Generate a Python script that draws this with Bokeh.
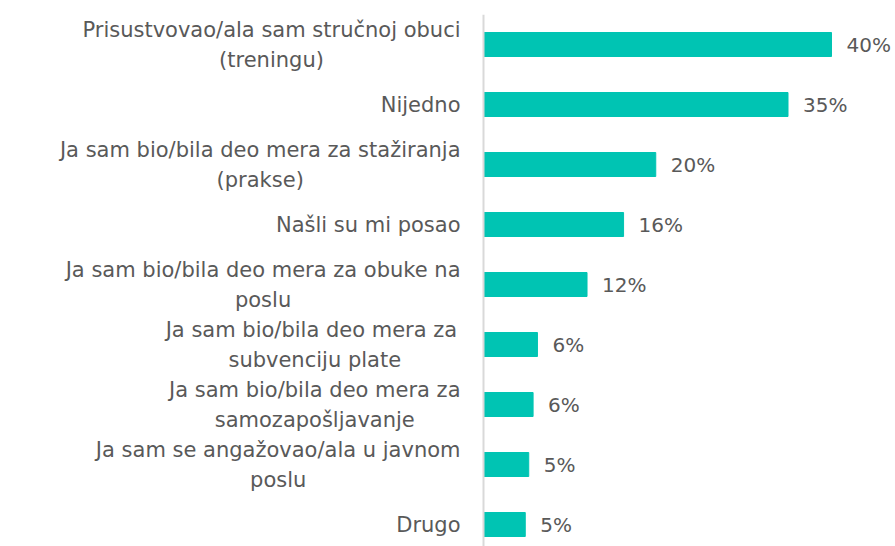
from bokeh.plotting import figure
from bokeh.models import ColumnDataSource, Range1d, Span
from bokeh.core.properties import value
from bokeh.embed import file_html
from bokeh.resources import INLINE

categories = [
    "Prisustvovao/ala sam stručnoj obuci\n(treningu)",
    "Nijedno",
    "Ja sam bio/bila deo mera za stažiranja\n(prakse)",
    "Našli su mi posao",
    "Ja sam bio/bila deo mera za obuke na\nposlu",
    "Ja sam bio/bila deo mera za \nsubvenciju plate",
    "Ja sam bio/bila deo mera za\nsamozapošljavanje",
    "Ja sam se angažovao/ala u javnom\nposlu",
    "Drugo",
]
values = [40.0, 35.0, 19.8, 16.1, 11.9, 6.2, 5.7, 5.2, 4.8]
value_labels = ["40%", "35%", "20%", "16%", "12%", "6%", "6%", "5%", "5%"]

FONT = "DejaVu Sans"
LABEL_SIZE = 21
VALUE_SIZE = 20
TEXT_COLOR = "#595959"
BAR_COLOR = "#00C4B3"

W, H = 895, 546
FRAME_LEFT = 483          # pixel position of the value axis (x = 0)
PX_PER_UNIT = 8.7         # pixels per percentage point
ROW_PX = 60.0
TOP = 14
LABEL_GAP = 23
LINE_SPACING = 30

# text measurement for centring multi-line labels
try:
    from PIL import ImageFont
    _f = ImageFont.truetype("DejaVuSans.ttf", LABEL_SIZE)
    def text_width(s):
        return _f.getlength(s)
except Exception:
    def text_width(s):
        return 0.6 * LABEL_SIZE * len(s)

x_start = -FRAME_LEFT / PX_PER_UNIT
x_end = (W - FRAME_LEFT) / PX_PER_UNIT
y_top = -0.5
y_bottom = y_top + (H - TOP) / ROW_PX

pos = list(range(len(categories)))
src = ColumnDataSource(dict(y=pos, v=values, lab=value_labels))

p = figure(width=W, height=H, output_backend="svg", toolbar_location=None,
           x_range=Range1d(x_start, x_end), y_range=Range1d(y_bottom, y_top),
           x_axis_location=None, y_axis_location=None,
           min_border_left=0, min_border_right=0,
           min_border_top=TOP, min_border_bottom=0)
p.outline_line_color = None
p.grid.visible = False
p.background_fill_color = "white"
p.border_fill_color = "white"

p.hbar(y="y", right="v", left=0, height=0.4, source=src, color=BAR_COLOR)
p.text(x="v", y="y", text="lab", source=src, x_offset=15, text_align="left",
       text_baseline="middle", text_font=value(FONT),
       text_font_size=f"{VALUE_SIZE}px", text_color=TEXT_COLOR)

# category labels: block right-aligned against the axis, lines centred
lx, ly, lt, lxo, lyo = [], [], [], [], []
for i, cat in enumerate(categories):
    lines = cat.split("\n")
    block_w = max(text_width(l.rstrip()) for l in lines)
    n = len(lines)
    for k, line in enumerate(lines):
        lx.append(0)
        ly.append(i)
        lt.append(line)
        lxo.append(-LABEL_GAP - block_w / 2)
        lyo.append((k - (n - 1) / 2) * LINE_SPACING)
lsrc = ColumnDataSource(dict(x=lx, y=ly, t=lt, xo=lxo, yo=lyo))
p.text(x="x", y="y", text="t", x_offset="xo", y_offset="yo", source=lsrc,
       text_align="center", text_baseline="middle", text_font=value(FONT),
       text_font_size=f"{LABEL_SIZE}px", text_color=TEXT_COLOR)

p.add_layout(Span(location=0, dimension="height", line_color="#d9d9d9",
                  line_width=2))

open("out.html", "w").write(file_html(p, INLINE))
